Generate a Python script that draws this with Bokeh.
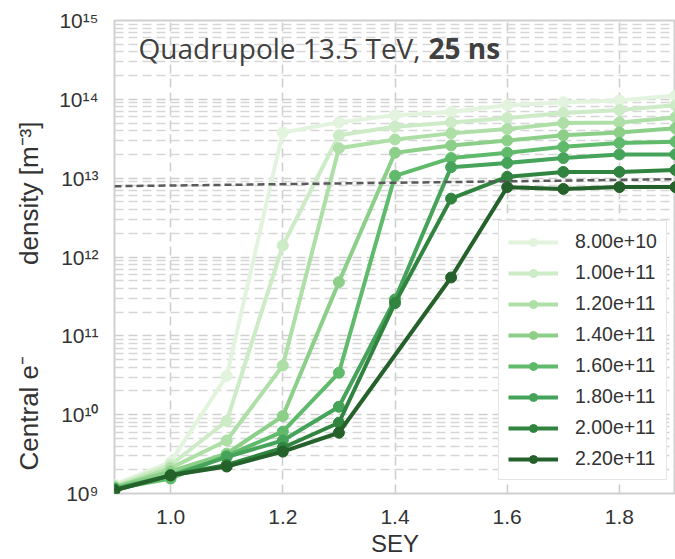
import math
from bokeh.plotting import figure
from bokeh.models import FixedTicker, CustomJSTickFormatter, Label, Range1d
from bokeh.embed import file_html
from bokeh.resources import INLINE

# ---- data ----
sey = [0.9, 1.0, 1.1, 1.2, 1.3, 1.4, 1.5, 1.6, 1.7, 1.8, 1.9]
bunch_labels = ["8.00e+10", "1.00e+11", "1.20e+11", "1.40e+11",
                "1.60e+11", "1.80e+11", "2.00e+11", "2.20e+11"]
dens_080 = [1.3e9, 2.5e9, 3.1e10, 3.8e13, 5.1e13, 6.3e13, 6.9e13, 8.4e13, 9.2e13, 9.7e13, 1.12e14]
dens_100 = [1.25e9, 2.3e9, 8.3e9, 1.4e12, 3.5e13, 4.5e13, 5.1e13, 5.8e13, 6.7e13, 7.3e13, 8.4e13]
dens_120 = [1.2e9, 2.1e9, 4.7e9, 4.2e10, 2.4e13, 3.1e13, 3.7e13, 4.2e13, 5.0e13, 5.1e13, 5.9e13]
dens_140 = [1.2e9, 1.9e9, 3.2e9, 9.6e9, 4.8e11, 2.1e13, 2.6e13, 3.0e13, 3.5e13, 3.8e13, 4.3e13]
dens_160 = [1.15e9, 1.55e9, 3.0e9, 6.1e9, 3.4e10, 1.07e13, 1.8e13, 2.1e13, 2.5e13, 2.8e13, 2.9e13]
dens_180 = [1.15e9, 1.7e9, 2.9e9, 4.7e9, 1.26e10, 2.9e11, 1.38e13, 1.56e13, 1.8e13, 2.0e13, 2.0e13]
dens_200 = [1.1e9, 1.7e9, 2.3e9, 3.8e9, 7.9e9, 2.6e11, 5.5e12, 1.04e13, 1.2e13, 1.2e13, 1.27e13]
dens_220 = [1.1e9, 1.7e9, 2.2e9, 3.4e9, 5.9e9, None, 5.5e11, 7.7e12, 7.3e12, 7.7e12, 7.7e12]
all_series = [dens_080, dens_100, dens_120, dens_140, dens_160, dens_180, dens_200, dens_220]

thr_sey = [0.9, 1.9]
thr_density = [7.9e12, 9.7e12]

x_ticks = [1.0, 1.2, 1.4, 1.6, 1.8]
y_ticks = [1e9, 1e10, 1e11, 1e12, 1e13, 1e14, 1e15]
y_minor = [m * 10 ** e for e in range(9, 15) for m in range(2, 10)]

colors = ["#e3f4de", "#cdebc6", "#addfa7", "#8ccf89",
          "#5fbb6b", "#45a35a", "#31843f", "#25612a"]

# ---- figure ----
p = figure(width=675, height=559, x_range=Range1d(0.9, 1.9),
           y_range=Range1d(1e9, 1e15), y_axis_type="log",
           output_backend="svg", toolbar_location=None,
           min_border_left=114, min_border_right=0,
           min_border_top=20, min_border_bottom=64)

p.background_fill_color = "white"
p.border_fill_color = "white"
p.outline_line_color = "#d0d0d0"
p.outline_line_width = 2

p.xaxis.ticker = FixedTicker(ticks=x_ticks)
p.yaxis.ticker = FixedTicker(ticks=y_ticks, minor_ticks=y_minor)
p.xaxis.formatter = CustomJSTickFormatter(code="return tick.toFixed(1);")
p.yaxis.formatter = CustomJSTickFormatter(code="""
const sup = {'0':'\u2070','1':'\u00b9','2':'\u00b2','3':'\u00b3','4':'\u2074',
             '5':'\u2075','6':'\u2076','7':'\u2077','8':'\u2078','9':'\u2079'};
const e = Math.round(Math.log10(tick)).toString();
return '10' + e.split('').map(c => sup[c]).join('');
""")

for ax in (p.xaxis, p.yaxis):
    ax.axis_line_color = None
    ax.major_tick_line_color = None
    ax.minor_tick_line_color = None
    ax.major_label_text_font = "Liberation Sans"
    ax.major_label_text_font_size = "21px"
    ax.major_label_text_color = "#333333"
    ax.axis_label_text_font = "Liberation Sans"
    ax.axis_label_text_font_style = "normal"
    ax.axis_label_text_color = "#333333"

p.xaxis.axis_label_text_font_size = "24px"
p.yaxis.axis_label_text_font_size = "26px"
p.xaxis.major_label_standoff = 10
p.yaxis.major_label_standoff = 10
p.xaxis.axis_label = "SEY"
p.xaxis.axis_label_standoff = 3
# label text, with em spaces: a wide gap after e⁻ and trailing room that
# moves the visible words down to where the reference has them
p.yaxis.axis_label = ("Central e\u207b\u2003\u2003\u2003\u2002density [m\u207b\u00b3]"
                      "\u2003\u2003\u2002\u2002")
p.yaxis.axis_label_standoff = 12

p.xgrid.grid_line_color = "#cfcfcf"
p.xgrid.grid_line_width = 1.6
p.xgrid.grid_line_dash = "9 5"
p.ygrid.grid_line_color = "#cfcfcf"
p.ygrid.grid_line_width = 1.6
p.ygrid.grid_line_dash = "9 5"
p.ygrid.minor_grid_line_color = "#d6d6d6"
p.ygrid.minor_grid_line_width = 1.4
p.ygrid.minor_grid_line_dash = "9 5"

for vals, col, lab in zip(all_series, colors, bunch_labels):
    xs = [s for s, v in zip(sey, vals) if v is not None]
    ys = [v for v in vals if v is not None]
    p.line(xs, ys, line_color=col, line_width=4, legend_label=lab)
    p.scatter(xs, ys, size=11, fill_color=col, line_color=col, legend_label=lab)

p.line(thr_sey, thr_density, line_color="#5a5a5a", line_width=2.5, line_dash="7 4")

lg = p.legend[0]
lg.location = (384, 13)
lg.label_text_font = "Liberation Sans"
lg.label_text_font_size = "19.5px"
lg.label_text_color = "#333333"
lg.glyph_width = 50
lg.glyph_height = 20
lg.label_height = 20
lg.label_standoff = 17
lg.spacing = 8
lg.padding = 9
lg.margin = 0
lg.border_line_color = "#cccccc"
lg.border_line_width = 1.5
lg.background_fill_color = "white"
lg.background_fill_alpha = 1.0

p.add_layout(Label(x=24, y=446, x_units="screen", y_units="screen",
                   text="Quadrupole 13.5 TeV,", text_font="Open Sans",
                   text_font_size="28px", text_color="#404040",
                   text_baseline="alphabetic"))
p.add_layout(Label(x=314, y=446, x_units="screen", y_units="screen",
                   text="25 ns", text_font="Open Sans", text_font_style="bold",
                   text_font_size="28px", text_color="#404040",
                   text_baseline="alphabetic"))

open("out.html", "w").write(file_html(p, INLINE))
